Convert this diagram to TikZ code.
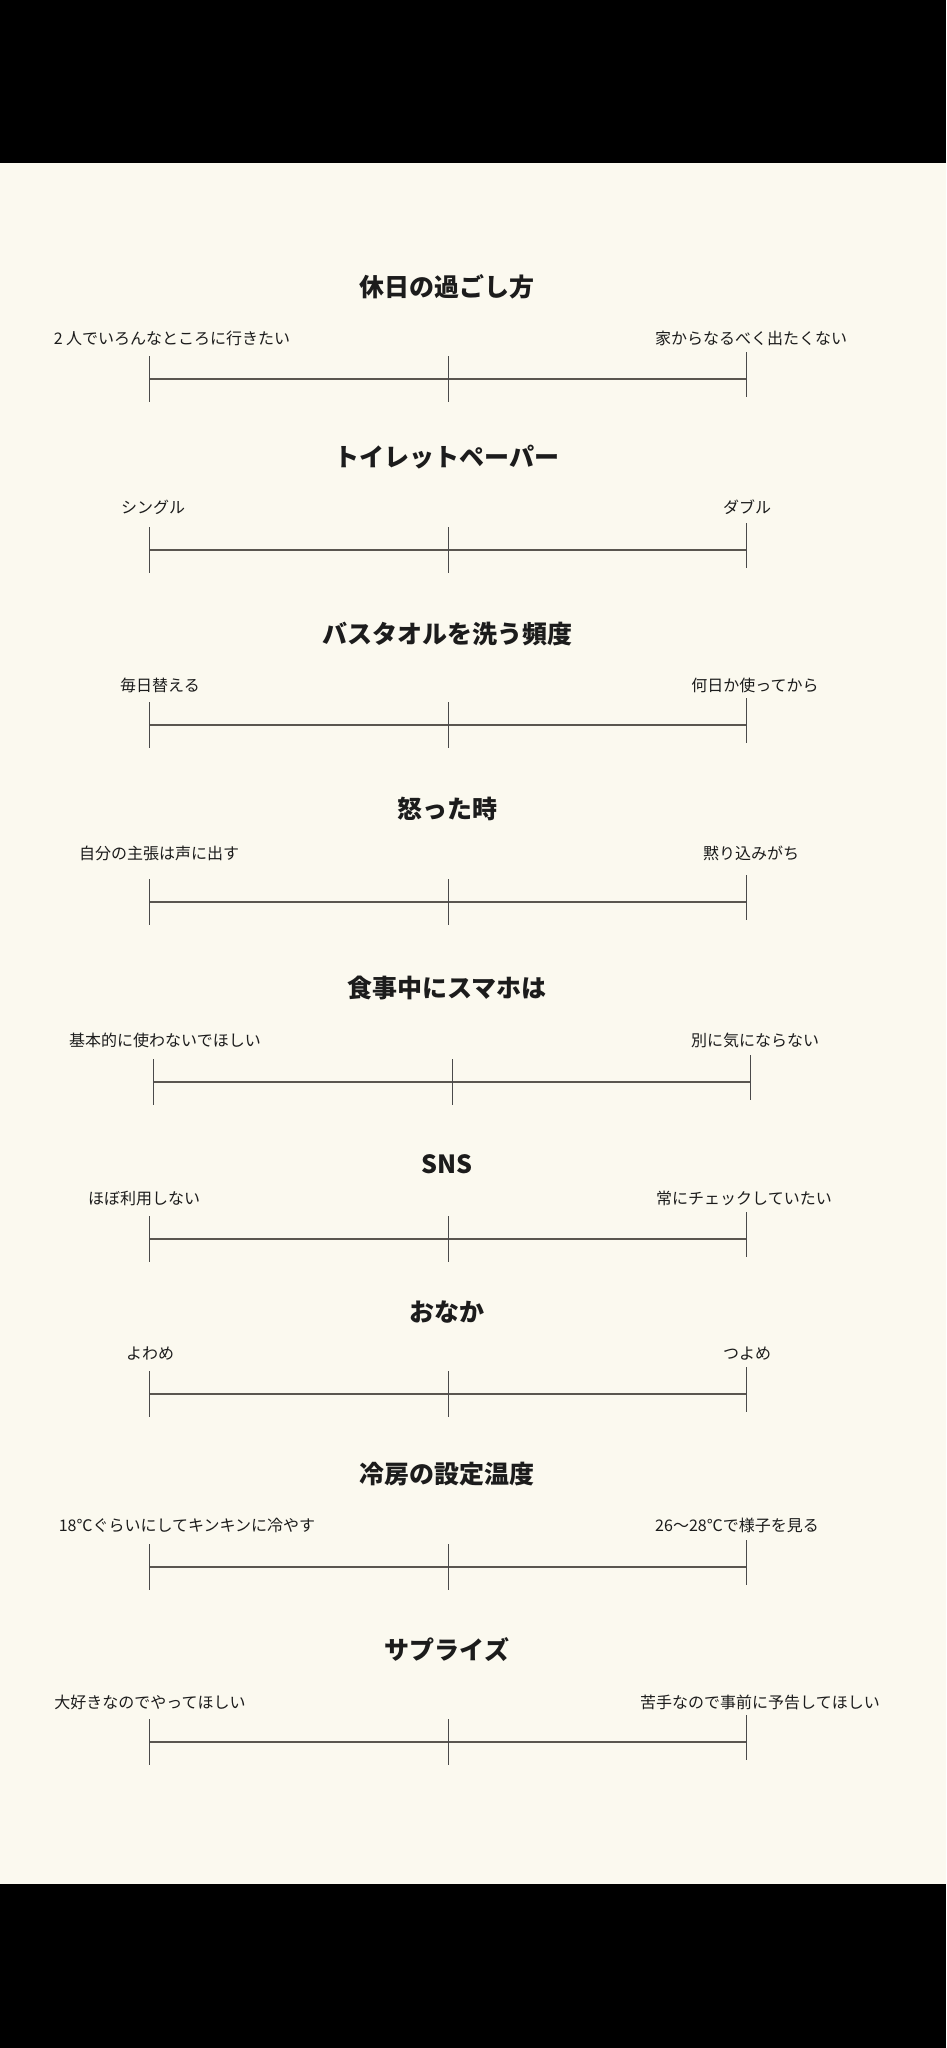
\documentclass[tikz,border=0pt]{standalone}
\usepackage{fontspec}
\setmainfont{Noto Sans CJK JP}
\definecolor{bg}{HTML}{FBF9EF}
\definecolor{ink}{HTML}{1C1C1C}
\definecolor{barline}{HTML}{5A5650}
\definecolor{tickline}{HTML}{4A4A4A}
\tikzset{
  titletext/.style={font=\fontsize{25}{25}\selectfont\bfseries, text=ink, inner sep=0pt, text height=0.76em, text depth=0pt, anchor=center},
  labeltext/.style={font=\fontsize{16}{16}\selectfont, text=ink, inner sep=0pt, text height=0.76em, text depth=0pt, anchor=center},
  scaleline/.style={draw=barline, line width=2pt},
  tickmark/.style={draw=tickline, line width=0.9pt},
}
\begin{document}
\begin{tikzpicture}[x=1pt,y=-1pt]
\useasboundingbox (0,0) rectangle (946,2048);
\fill[bg] (0,0) rectangle (946,2048);
\fill[black] (0,0) rectangle (946,163);
\fill[black] (0,1884) rectangle (946,2048);
\foreach \i/\ty/\ly/\yy/\dx/\lx/\rx/\tt/\lt/\rt in {
  1/288/338/379/0/172/751/休日の過ごし方/2 人でいろんなところに行きたい/家からなるべく出たくない,
  2/458/507/550/0/153/747/トイレットペーパー/シングル/ダブル,
  3/635/685/725/0/160/755/バスタオルを洗う頻度/毎日替える/何日か使ってから,
  4/810/853/902/0/159/751/怒った時/自分の主張は声に出す/黙り込みがち,
  5/989/1040/1082/4/165/755/食事中にスマホは/基本的に使わないでほしい/別に気にならない,
  6/1165/1198/1239/0/144/744/SNS/ほぼ利用しない/常にチェックしていたい,
  7/1313/1353/1394/0/150/747/おなか/よわめ/つよめ,
  8/1475/1525/1567/0/187/737/冷房の設定温度/18℃ぐらいにしてキンキンに冷やす/26〜28℃で様子を見る,
  9/1651/1702/1742/0/150/760/サプライズ/大好きなのでやってほしい/苦手なので事前に予告してほしい}
{
  \node[titletext] (title\i) at (447,\ty+5) {\tt};
  \node[labeltext] (left\i) at (\lx,\ly+3) {\lt};
  \node[labeltext] (right\i) at (\rx,\ly+3) {\rt};
  \coordinate (a\i) at (149+\dx,\yy);
  \coordinate (m\i) at (448+\dx,\yy);
  \coordinate (b\i) at (746+\dx,\yy);
  \coordinate (at\i) at (149+\dx,\yy-23);
  \coordinate (ab\i) at (149+\dx,\yy+23);
  \coordinate (mt\i) at (448+\dx,\yy-23);
  \coordinate (mb\i) at (448+\dx,\yy+23);
  \coordinate (bt\i) at (746+\dx,\yy-27);
  \coordinate (bb\i) at (746+\dx,\yy+18);
  \draw[scaleline] (a\i) -- (m\i) -- (b\i);
  \draw[tickmark] (at\i) -- (ab\i);
  \draw[tickmark] (mt\i) -- (mb\i);
  \draw[tickmark] (bt\i) -- (bb\i);
}
\end{tikzpicture}
\end{document}
